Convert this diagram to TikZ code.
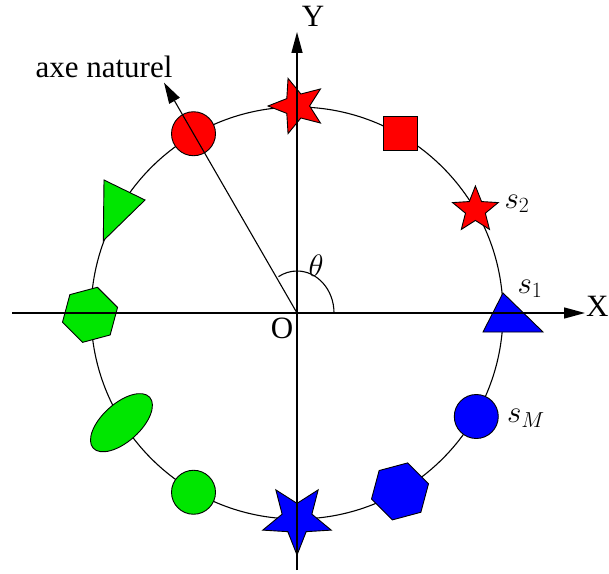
\RequirePackage{fix-cm}
\documentclass[tikz,border=0pt]{standalone}
\usepackage{fontspec}
\setmainfont{Liberation Serif}
\usetikzlibrary{shapes.geometric,arrows.meta,calc}
\definecolor{myred}{RGB}{255,0,0}
\definecolor{mygreen}{RGB}{0,230,0}
\definecolor{myblue}{RGB}{0,0,255}
\begin{document}
\begin{tikzpicture}[x=1pt,y=1pt,
  axisline/.style={line width=1.4pt,-{Triangle[length=21pt,width=11pt]}},
  marker/.style={draw=black,line width=0.9pt,inner sep=0pt,outer sep=0pt},
  starm/.style={marker,star,star points=5,star point ratio=2.3},
  hexm/.style={marker,regular polygon,regular polygon sides=6},
  lbl/.style={font=\fontsize{31}{36}\selectfont,inner sep=0pt,outer sep=0pt}]
\useasboundingbox (0,0) rectangle (609,573);
\coordinate (O) at (297,260);
% circle
\draw[line width=1.1pt] (O) circle (206);
% red markers
\node[starm,fill=myred,minimum size=58pt,shape border rotate=90] (rstar) at ($(O)+(90:207)$) {};
\node[marker,circle,fill=myred,minimum size=44pt] (rcirc) at ($(O)+(120:207)$) {};
\node[marker,rectangle,fill=myred,minimum size=34pt] (rsq) at ($(O)+(60:207)$) {};
\node[starm,fill=myred,minimum size=48pt] (rstar2) at ($(O)+(30:206)$) {};
% blue markers
\filldraw[marker,fill=myblue] (503,280) -- (483,241) -- (543,241) -- cycle;
\node[marker,circle,fill=myblue,minimum size=44pt] (bcirc) at ($(O)+(-30:207)$) {};
\node[hexm,fill=myblue,minimum size=59pt,rotate=15] (bhex) at ($(O)+(-60:206)$) {};
\node[starm,fill=myblue,minimum size=72pt,shape border rotate=180] (bstar) at ($(O)+(-90:206)$) {};
% green markers
\node[marker,circle,fill=mygreen,minimum size=44pt] (gcirc) at ($(O)+(240:207)$) {};
\node[marker,ellipse,fill=mygreen,minimum width=76pt,minimum height=38pt,rotate=42] (gell) at ($(O)+(212:207)$) {};
\node[hexm,fill=mygreen,minimum size=57pt,rotate=15] (ghex) at ($(O)+(180.5:207)$) {};
\filldraw[marker,fill=mygreen] (104,393) -- (145,373) -- (103.3,332.3) -- cycle;
% axes
\coordinate (xl) at (12,260);
\coordinate (xr) at (585,260);
\coordinate (yb) at (297,3);
\coordinate (yt) at (297,541);
\coordinate (nat) at ($(O)+(120:266)$);
\draw[axisline] (xl) -- (xr);
\draw[axisline] (yb) -- (yt);
\draw[line width=1.1pt,-{Triangle[length=21pt,width=12pt]}] (O) -- (nat);
% angle arc
\draw[line width=1.1pt] ($(O)+(37,0)$) arc[start angle=0,end angle=120,x radius=37,y radius=42];
% labels
\node[lbl,anchor=base] (lnat) at (104,495) {axe naturel};
\node[lbl,anchor=base] (lY) at (313,546) {Y};
\node[lbl,anchor=base east] (lX) at (608.5,256) {X};
\node[lbl,anchor=base] (lO) at (282,235) {O};
\node[lbl] (lth) at (316,307) {$\theta$};
\node[lbl] (ls2) at (517,369) {$s_2$};
\node[lbl] (ls1) at (530,284) {$s_1$};
\node[lbl] (lsM) at (526,155) {$s_M$};
\end{tikzpicture}
\end{document}
